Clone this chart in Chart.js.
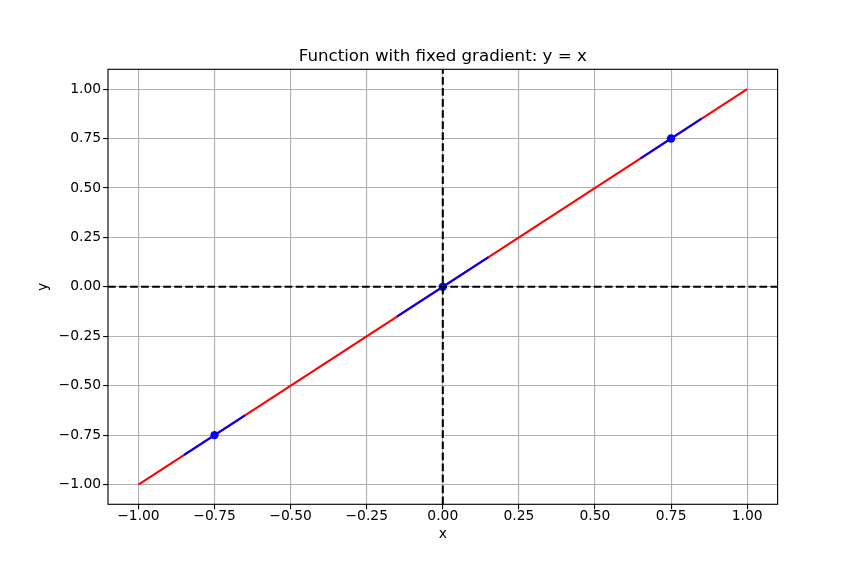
<!DOCTYPE html>
<html>
<head>
<meta charset="utf-8">
<script src="https://cdn.jsdelivr.net/npm/chart.js@4"></script>
<style>
  html, body { margin: 0; padding: 0; background: #fff; }
  #wrap { width: 864px; height: 576px; }
</style>
</head>
<body>
<div id="wrap"><canvas id="c" width="864" height="576"></canvas></div>
<script>
// ---- data ----
const lineX = [-1.0, 1.0];
const lineY = [-1.0, 1.0];

const tangentPointsX = [-0.75, 0.0, 0.75];
const tangentPointsY = [-0.75, 0.0, 0.75];

const tangent1X = [-0.85, -0.65];
const tangent1Y = [-0.85, -0.65];
const tangent2X = [-0.15, 0.15];
const tangent2Y = [-0.15, 0.15];
const tangent3X = [0.65, 0.85];
const tangent3Y = [0.65, 0.85];

const xLimits = [-1.1, 1.1];
const yLimits = [-1.1, 1.1];

const xTickValues = [-1.0, -0.75, -0.5, -0.25, 0.0, 0.25, 0.5, 0.75, 1.0];
const xTickLabels = ['\u22121.00', '\u22120.75', '\u22120.50', '\u22120.25', '0.00', '0.25', '0.50', '0.75', '1.00'];
const yTickValues = [-1.0, -0.75, -0.5, -0.25, 0.0, 0.25, 0.5, 0.75, 1.0];
const yTickLabels = ['\u22121.00', '\u22120.75', '\u22120.50', '\u22120.25', '0.00', '0.25', '0.50', '0.75', '1.00'];

const titleText = 'Function with fixed gradient: y = x';
const xTitle = 'x';
const yTitle = 'y';

// ---- helpers ----
const pts = (xs, ys) => xs.map((x, i) => ({ x: x, y: ys[i] }));

const LW = 1.5 * 100 / 72;
const FONT = 'DejaVu Sans';
const FS = 10 * 100 / 72;
const TITLE_FS = 12 * 100 / 72;

Chart.defaults.color = '#000';
Chart.defaults.font.family = FONT;

// frame (spines) + title centred over the axes
const framePlugin = {
  id: 'frame',
  afterDraw(chart) {
    const { ctx, chartArea: a } = chart;
    ctx.save();
    ctx.strokeStyle = '#000';
    ctx.lineWidth = 0.8 * 100 / 72;
    ctx.strokeRect(a.left, a.top, a.right - a.left, a.bottom - a.top);
    ctx.fillStyle = '#000';
    ctx.font = 'normal ' + TITLE_FS + 'px "' + FONT + '"';
    ctx.textAlign = 'center';
    ctx.textBaseline = 'middle';
    ctx.fillText(titleText, (a.left + a.right) / 2, a.top - 12.4);
    ctx.restore();
  }
};

const lineDs = (data, color, order, extra) => Object.assign({
  data: data,
  borderColor: color,
  backgroundColor: color,
  borderWidth: LW,
  pointRadius: 0,
  showLine: true,
  fill: false,
  tension: 0,
  order: order
}, extra || {});

new Chart(document.getElementById('c'), {
  type: 'scatter',
  data: {
    datasets: [
      // lower order drawn on top
      lineDs(pts([xLimits[0], xLimits[1]], [0, 0]), '#000000', 1, { borderDash: [5.55 * 100 / 72, 2.4 * 100 / 72] }),
      lineDs(pts([0, 0], [yLimits[0], yLimits[1]]), '#000000', 1, { borderDash: [5.55 * 100 / 72, 2.4 * 100 / 72] }),
      {
        data: pts(tangentPointsX, tangentPointsY),
        showLine: false,
        pointRadius: 6 * 100 / 72 / 2,
        pointBorderWidth: 0,
        pointBackgroundColor: '#0000ff',
        pointBorderColor: '#0000ff',
        order: 2
      },
      lineDs(pts(tangent1X, tangent1Y), '#0000ff', 3),
      lineDs(pts(tangent2X, tangent2Y), '#0000ff', 3),
      lineDs(pts(tangent3X, tangent3Y), '#0000ff', 3),
      lineDs(pts(lineX, lineY), '#ff0000', 4)
    ]
  },
  options: {
    responsive: false,
    animation: false,
    devicePixelRatio: 1,
    layout: { padding: { left: 30.85, right: 86.4, top: 69.3, bottom: 29.25 } },
    plugins: {
      legend: { display: false },
      tooltip: { enabled: false },
      title: { display: false }
    },
    scales: {
      x: {
        type: 'linear',
        min: xLimits[0],
        max: xLimits[1],
        afterBuildTicks(scale) { scale.ticks = xTickValues.map(v => ({ value: v })); },
        afterFit(scale) { scale.height = 42.45; },
        ticks: {
          autoSkip: false,
          maxRotation: 0,
          padding: 0,
          color: '#000',
          font: { family: FONT, size: FS, lineHeight: 1.0 },
          callback: (value, index) => xTickLabels[index]
        },
        grid: {
          color: '#b0b0b0',
          lineWidth: 0.8 * 100 / 72,
          drawTicks: true,
          tickLength: 3.5 * 100 / 72,
          tickColor: '#000',
          tickWidth: 0.8 * 100 / 72
        },
        border: { display: false },
        title: {
          display: true,
          text: xTitle,
          color: '#000',
          font: { family: FONT, size: FS, lineHeight: 1.2 },
          padding: { top: 4, bottom: 4 }
        }
      },
      y: {
        type: 'linear',
        min: yLimits[0],
        max: yLimits[1],
        afterBuildTicks(scale) { scale.ticks = yTickValues.map(v => ({ value: v })); },
        afterFit(scale) { scale.width = 77.15; },
        ticks: {
          autoSkip: false,
          padding: 2,
          color: '#000',
          font: { family: FONT, size: FS, lineHeight: 1.0 },
          callback: (value, index) => yTickLabels[index]
        },
        grid: {
          color: '#b0b0b0',
          lineWidth: 0.8 * 100 / 72,
          drawTicks: true,
          tickLength: 3.5 * 100 / 72,
          tickColor: '#000',
          tickWidth: 0.8 * 100 / 72
        },
        border: { display: false },
        title: {
          display: true,
          text: yTitle,
          color: '#000',
          font: { family: FONT, size: FS, lineHeight: 1.2 },
          padding: { top: 4, bottom: 4 }
        }
      }
    }
  },
  plugins: [framePlugin]
});
</script>
</body>
</html>
